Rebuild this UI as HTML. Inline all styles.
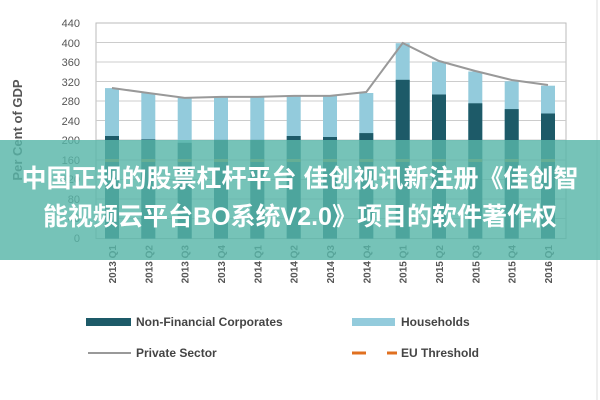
<!DOCTYPE html>
<html><head><meta charset="utf-8"><style>
html,body{margin:0;padding:0;background:#fff;}
#w{position:relative;width:600px;height:400px;overflow:hidden;font-family:"Liberation Sans",sans-serif;}
.band{position:absolute;left:0;top:140px;width:600px;height:120px;background:rgba(88,182,168,0.82);}
.t{position:absolute;left:0;width:600px;text-align:center;color:#fff;font-weight:bold;font-size:25px;line-height:30px;font-family:"Liberation Sans","Noto Sans CJK SC",sans-serif;white-space:nowrap;}
</style></head><body><div id="w">
<svg width="600" height="400" style="position:absolute;left:0;top:0" font-family="Liberation Sans, sans-serif">
<line x1="597" y1="0" x2="597" y2="400" stroke="#ddd"/>
<rect x="96" y="23" width="470" height="215.6" fill="none" stroke="#bbb"/>
<g stroke="#ccc" stroke-width="1">
<line x1="96" x2="566" y1="42.5" y2="42.5"/><line x1="96" x2="566" y1="62" y2="62"/>
<line x1="96" x2="566" y1="81.5" y2="81.5"/><line x1="96" x2="566" y1="101" y2="101"/>
<line x1="96" x2="566" y1="120.5" y2="120.5"/><line x1="96" x2="566" y1="140" y2="140"/>
<line x1="96" x2="566" y1="160" y2="160"/><line x1="96" x2="566" y1="179.5" y2="179.5"/>
<line x1="96" x2="566" y1="199" y2="199"/><line x1="96" x2="566" y1="218.5" y2="218.5"/>
</g>
<g font-size="11" fill="#555" text-anchor="end">
<text x="80" y="27">440</text><text x="80" y="47">400</text><text x="80" y="66">360</text>
<text x="80" y="86">320</text><text x="80" y="105">280</text><text x="80" y="125">240</text>
<text x="80" y="144">200</text><text x="80" y="164">160</text><text x="80" y="183">120</text>
<text x="80" y="203">80</text><text x="80" y="222">40</text><text x="80" y="242">0</text>
</g>
<text transform="translate(22,130) rotate(-90)" font-size="13" font-weight="bold" fill="#555" text-anchor="middle">Per Cent of GDP</text>
<g fill="#93cbdc">
<rect x="105" y="88.1" width="14" height="150.5"/><rect x="141.3" y="93" width="14" height="145.6"/>
<rect x="177.7" y="97.9" width="14" height="140.7"/><rect x="214" y="96.9" width="14" height="141.7"/>
<rect x="250.3" y="96.9" width="14" height="141.7"/><rect x="286.7" y="95.9" width="14" height="142.7"/>
<rect x="323" y="95.9" width="14" height="142.7"/><rect x="359.3" y="93" width="14" height="145.6"/>
<rect x="395.7" y="43.2" width="14" height="195.4"/><rect x="432" y="61.7" width="14" height="176.9"/>
<rect x="468.3" y="71.5" width="14" height="167.1"/><rect x="504.7" y="81.3" width="14" height="157.3"/>
<rect x="541" y="85.7" width="14" height="152.9"/>
</g>
<g fill="#1d5a68">
<rect x="105" y="136" width="14" height="102.6"/><rect x="141.3" y="139.4" width="14" height="99.2"/>
<rect x="177.7" y="142.8" width="14" height="95.8"/><rect x="214" y="139.9" width="14" height="98.7"/>
<rect x="250.3" y="139.9" width="14" height="98.7"/><rect x="286.7" y="136" width="14" height="102.6"/>
<rect x="323" y="137" width="14" height="101.6"/><rect x="359.3" y="133.1" width="14" height="105.5"/>
<rect x="395.7" y="79.8" width="14" height="158.8"/><rect x="432" y="94.5" width="14" height="144.1"/>
<rect x="468.3" y="103.3" width="14" height="135.3"/><rect x="504.7" y="109.1" width="14" height="129.5"/>
<rect x="541" y="113.5" width="14" height="125.1"/>
</g>
<polyline fill="none" stroke="#999" stroke-width="2" points="112,88 148.3,93 184.7,97.9 221,96.9 257.3,96.9 293.7,95.9 330,95.9 366.3,92 402.7,43 439,61 475.3,71 511.7,80 548,85"/>
<g stroke="#a08a40" stroke-width="3">
<line x1="105" x2="119" y1="160.5" y2="160.5"/><line x1="141.3" x2="155.3" y1="160.5" y2="160.5"/>
<line x1="177.7" x2="191.7" y1="160.5" y2="160.5"/><line x1="214" x2="228" y1="160.5" y2="160.5"/>
<line x1="250.3" x2="264.3" y1="160.5" y2="160.5"/><line x1="286.7" x2="300.7" y1="160.5" y2="160.5"/>
<line x1="323" x2="337" y1="160.5" y2="160.5"/><line x1="359.3" x2="373.3" y1="160.5" y2="160.5"/>
<line x1="395.7" x2="409.7" y1="160.5" y2="160.5"/><line x1="432" x2="446" y1="160.5" y2="160.5"/>
<line x1="468.3" x2="482.3" y1="160.5" y2="160.5"/><line x1="504.7" x2="518.7" y1="160.5" y2="160.5"/>
<line x1="541" x2="555" y1="160.5" y2="160.5"/>
</g>
<g font-size="10" font-weight="bold" fill="#555" text-anchor="end">
<text transform="translate(116,245) rotate(-90)">2013 Q1</text>
<text transform="translate(152.3,245) rotate(-90)">2013 Q2</text>
<text transform="translate(188.7,245) rotate(-90)">2013 Q3</text>
<text transform="translate(225,245) rotate(-90)">2013 Q4</text>
<text transform="translate(261.3,245) rotate(-90)">2014 Q1</text>
<text transform="translate(297.7,245) rotate(-90)">2014 Q2</text>
<text transform="translate(334,245) rotate(-90)">2014 Q3</text>
<text transform="translate(370.3,245) rotate(-90)">2014 Q4</text>
<text transform="translate(406.7,245) rotate(-90)">2015 Q1</text>
<text transform="translate(443,245) rotate(-90)">2015 Q2</text>
<text transform="translate(479.3,245) rotate(-90)">2015 Q3</text>
<text transform="translate(515.7,245) rotate(-90)">2015 Q4</text>
<text transform="translate(552,245) rotate(-90)">2016 Q1</text>
</g>
<rect x="86" y="318" width="45" height="8" fill="#1d5a68"/>
<text x="136" y="326" font-size="12" font-weight="bold" fill="#444">Non-Financial Corporates</text>
<rect x="352" y="318" width="43" height="8" fill="#93cbdc"/>
<text x="401" y="326" font-size="12" font-weight="bold" fill="#444">Households</text>
<line x1="88" x2="131" y1="353" y2="353" stroke="#999" stroke-width="2"/>
<text x="136" y="357" font-size="12" font-weight="bold" fill="#444">Private Sector</text>
<line x1="352" x2="366" y1="353" y2="353" stroke="#e07020" stroke-width="3"/>
<line x1="387" x2="397" y1="353" y2="353" stroke="#e07020" stroke-width="3"/>
<text x="401" y="357" font-size="12" font-weight="bold" fill="#444">EU Threshold</text>
</svg>
<div class="band"></div>
<div class="t" style="top:164px">中国正规的股票杠杆平台 佳创视讯新注册《佳创智</div>
<div class="t" style="top:202px">能视频云平台BO系统V2.0》项目的软件著作权</div>
</div></body></html>
